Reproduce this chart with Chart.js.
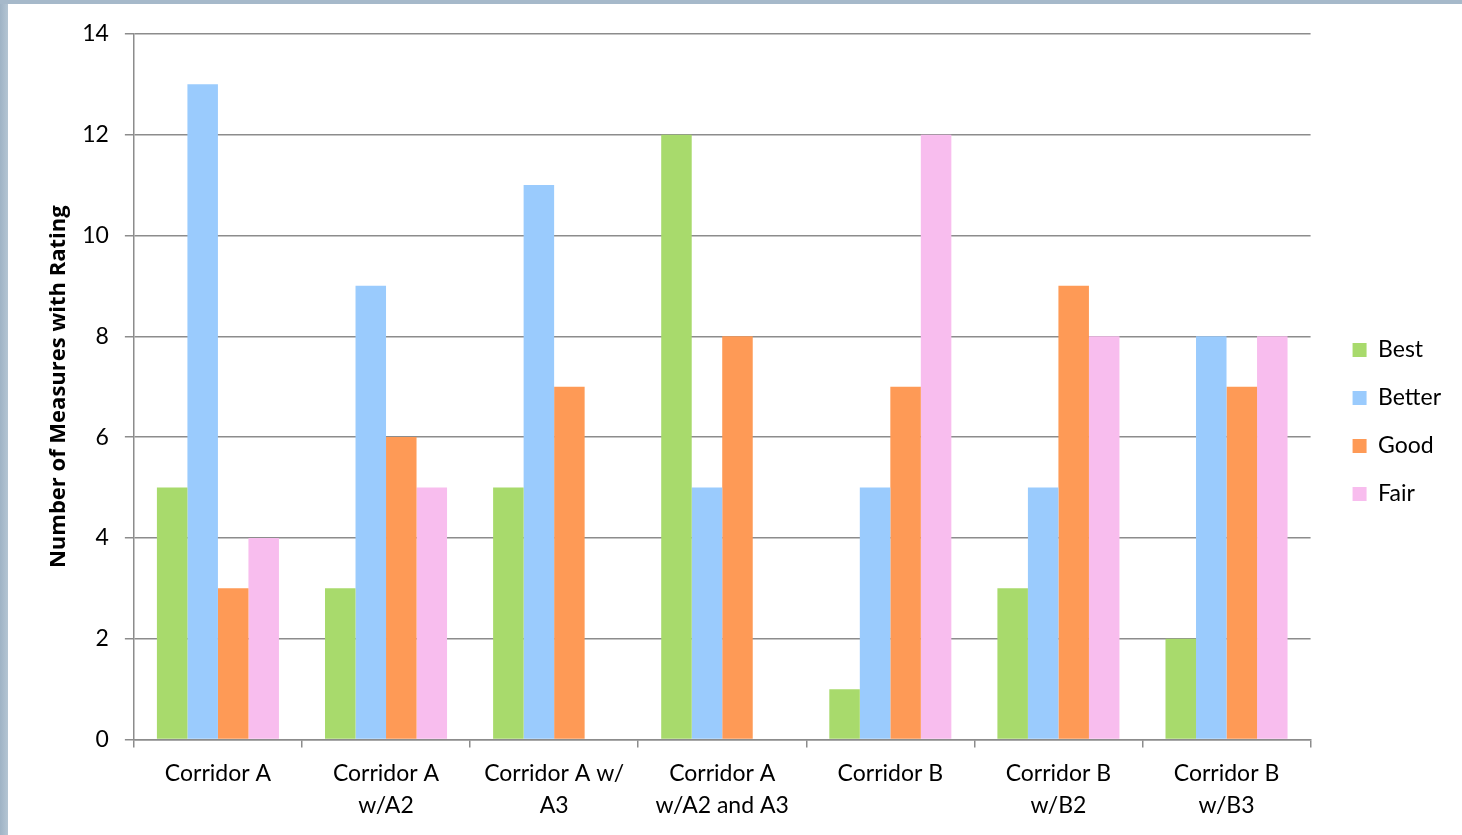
<!DOCTYPE html>
<html>
<head>
<meta charset="utf-8">
<script src="https://cdn.jsdelivr.net/npm/chart.js@4/dist/chart.umd.min.js"></script>
<style>
  html, body { margin: 0; padding: 0; background: #fff; }
  body { width: 1462px; height: 835px; overflow: hidden; position: relative; }
  .edgeLeft { position: absolute; left: 0; top: 0; width: 8px; height: 835px; background: linear-gradient(90deg, #9fb3c5, #b4c5d3); }
  .edgeTop { position: absolute; left: 0; top: 0; width: 1462px; height: 4px; background: #a6b9ca; }
  #wrap { position: absolute; left: 8px; top: 4px; }
</style>
</head>
<body>
<div class="edgeLeft"></div>
<div class="edgeTop"></div>
<div id="wrap"><canvas id="chart" width="1454" height="831"></canvas></div>
<script>
const corridors = [
  ["Corridor A"],
  ["Corridor A", "w/A2"],
  ["Corridor A w/", "A3"],
  ["Corridor A", "w/A2 and A3"],
  ["Corridor B"],
  ["Corridor B", "w/B2"],
  ["Corridor B", "w/B3"]
]
const best = [5, 3, 5, 12, 1, 3, 2]
const better = [13, 9, 11, 5, 5, 5, 8]
const good = [3, 6, 7, 8, 7, 9, 7]
const fair = [4, 5, 0, 0, 12, 8, 8]

const font = "Lato, 'Open Sans', sans-serif"
const gridColor = "#8c8c8c"

// nudge the legend over to where Excel put it
const legendNudge = {
  id: "legendNudge",
  afterLayout(chart) {
    let lg = chart.legend
    lg.left += 17; lg.right += 17
    lg.top -= 4; lg.bottom -= 4
  }
}

let mk = (label, data, color) => ({
  label: label, data: data, backgroundColor: color, borderWidth: 0,
  categoryPercentage: 0.726, barPercentage: 1
})

new Chart(document.getElementById("chart"), {
  type: "bar",
  data: {
    labels: corridors,
    datasets: [
      mk("Best", best, "#a8da6c"),
      mk("Better", better, "#9acbfd"),
      mk("Good", good, "#fe9a56"),
      mk("Fair", fair, "#f8bdee")
    ]
  },
  plugins: [legendNudge],
  options: {
    responsive: false,
    animation: false,
    layout: { padding: { left: 39, top: 16, right: 28, bottom: 3 } },
    plugins: {
      tooltip: { enabled: false },
      legend: {
        position: "right",
        labels: {
          boxWidth: 14, boxHeight: 14, padding: 25,
          color: "#000", font: { family: font, size: 23 }
        }
      }
    },
    scales: {
      x: {
        grid: { offset: true, drawOnChartArea: false, color: gridColor, lineWidth: 1.5, tickLength: 8 },
        border: { color: gridColor, width: 1.5 },
        ticks: { color: "#000", font: { family: font, size: 23, lineHeight: 1.4 }, padding: 10, maxRotation: 0, autoSkip: false }
      },
      y: {
        min: 0, max: 14,
        grid: { color: gridColor, lineWidth: 1.5, tickLength: 9 },
        border: { color: gridColor, width: 1.5 },
        ticks: { stepSize: 2, color: "#000", font: { family: font, size: 23 }, padding: 16 },
        title: {
          display: true, text: "Number of Measures with Rating", color: "#000",
          font: { family: "'Open Sans', 'Liberation Sans', sans-serif", size: 22, weight: 700, lineHeight: 1.1 },
          padding: { top: 0, bottom: -5 }
        }
      }
    }
  }
})
</script>
</body>
</html>
